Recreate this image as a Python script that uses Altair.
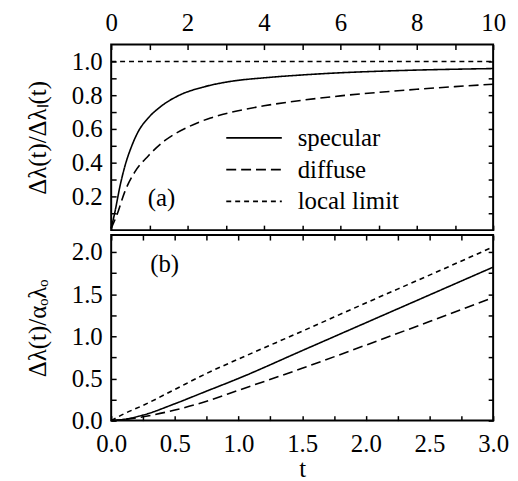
import altair as alt
import pandas as pd

# ---------------- data ----------------
series = ["specular", "diffuse", "local limit"]

# panel (a): t in [0, 10]
a_spec_t = [0, 0.1, 0.23, 0.36, 0.54, 0.71, 0.97, 1.31, 1.74, 2.44, 3.13,
            4, 5, 6, 7, 8, 9, 10]
a_specular = [0.01, 0.11, 0.26, 0.38, 0.50, 0.585, 0.665, 0.735, 0.795, 0.85, 0.882,
              0.903, 0.92, 0.933, 0.942, 0.949, 0.954, 0.958]
a_diff_t = [0, 0.15, 0.36, 0.62, 0.97, 1.4, 2.0, 2.6, 3.17, 4, 5, 6, 7, 8, 9, 10]
a_diffuse = [0.01, 0.09, 0.23, 0.345, 0.44, 0.53, 0.61, 0.665, 0.70, 0.737,
             0.77, 0.796, 0.817, 0.835, 0.851, 0.865]
a_local_t = [0, 10]
a_local = [1.0, 1.0]

# panel (b): t in [0, 3]
b_t = [0, 0.1, 0.25, 0.5, 0.75, 1, 1.5, 2, 2.5, 3]
b_specular = [0, 0.015, 0.065, 0.20, 0.35, 0.50, 0.83, 1.16, 1.49, 1.82]
b_diffuse = [0, 0.01, 0.045, 0.125, 0.23, 0.36, 0.62, 0.895, 1.175, 1.46]
b_local = [0, 0.08, 0.18, 0.37, 0.56, 0.73, 1.06, 1.395, 1.725, 2.06]

# panel labels
a_label = ["(a)"]
a_label_t = [1.32]
a_label_v = [0.19]
b_label = ["(b)"]
b_label_t = [0.42]
b_label_v = [1.86]

# tick values
a_xticks = list(range(0, 11))
a_yticks = [round(0.1 * i, 1) for i in range(1, 11)]
b_xticks = [0.25 * i for i in range(0, 13)]
b_yticks = [0.25 * i for i in range(0, 9)]

# ---------------- frames ----------------
rows = []
for s, tt, vv in [("specular", a_spec_t, a_specular), ("diffuse", a_diff_t, a_diffuse),
                  ("local limit", a_local_t, a_local)]:
    for t, v in zip(tt, vv):
        rows.append({"series": s, "t": t, "v": v})
df_a = pd.DataFrame(rows)

rows = []
for s, vv in [("specular", b_specular), ("diffuse", b_diffuse), ("local limit", b_local)]:
    for t, v in zip(b_t, vv):
        rows.append({"series": s, "t": t, "v": v})
df_b = pd.DataFrame(rows)

lab_a = pd.DataFrame({"label": a_label, "t": a_label_t, "v": a_label_v})
lab_b = pd.DataFrame({"label": b_label, "t": b_label_t, "v": b_label_v})

FONT = "Liberation Serif"
FS = 25
W = 385
H_A = 187
H_B = 187
TICK = 5
dash_range = [[1, 0], [10, 5], [5, 4]]


def axis(orient, values, expr=None, title=None, labels=True, **kw):
    args = dict(orient=orient, values=values, offset=-TICK, tickSize=TICK,
                labels=labels, title=title)
    if expr is not None:
        args["labelExpr"] = expr
    args.update(kw)
    return alt.Axis(**args)


ex_int2 = "datum.value % 2 == 0 ? datum.label : ''"
ex_02 = "round(datum.value * 10) % 2 == 0 ? format(datum.value, '.1f') : ''"
ex_05 = "round(datum.value * 4) % 2 == 0 ? format(datum.value, '.1f') : ''"

xa = alt.Scale(domain=[0, 10], nice=False, zero=False)
ya = alt.Scale(domain=[0, 1.1], nice=False, zero=False)
xb = alt.Scale(domain=[0, 3], nice=False, zero=False)
yb = alt.Scale(domain=[0, 2.2], nice=False, zero=False)

dash_scale = alt.Scale(domain=series, range=dash_range)

# ---- panel (a) ----
lines_a = alt.Chart(df_a).mark_line(color="black", strokeWidth=1.6, interpolate="monotone").encode(
    x=alt.X("t:Q", scale=xa,
            axis=axis("top", a_xticks, ex_int2, labelFlush=False, labelPadding=9)),
    y=alt.Y("v:Q", scale=ya,
            axis=axis("left", a_yticks, ex_02, title="Δλ(t)/Δλₗ(t)",
                      labelPadding=9, titlePadding=21)),
    strokeDash=alt.StrokeDash(
        "series:N", scale=dash_scale,
        legend=alt.Legend(title=None, orient="none", legendX=115, legendY=80,
                          symbolType="stroke", symbolSize=3136,
                          symbolStrokeColor="black", symbolStrokeWidth=1.6,
                          labelFont=FONT, labelFontSize=FS, labelColor="black",
                          labelOffset=15, clipHeight=28, rowPadding=4,
                          padding=0, labelLimit=300)),
    order=alt.Order("t:Q"),
)

text_a = alt.Chart(lab_a).mark_text(font=FONT, fontSize=FS, color="black").encode(
    x=alt.X("t:Q", scale=xa, axis=axis("bottom", a_xticks, labels=False)),
    y=alt.Y("v:Q", scale=ya, axis=axis("right", a_yticks, labels=False)),
    text="label:N",
)

panel_a = alt.layer(lines_a, text_a).resolve_axis(
    x="independent", y="independent").properties(width=W, height=H_A)

# ---- panel (b) ----
lines_b = alt.Chart(df_b).mark_line(color="black", strokeWidth=1.6, interpolate="monotone").encode(
    x=alt.X("t:Q", scale=xb,
            axis=axis("bottom", b_xticks, ex_05, title="t", labelFlush=False,
                      labelPadding=11, titlePadding=0)),
    y=alt.Y("v:Q", scale=yb,
            axis=axis("left", b_yticks, ex_05, title="Δλ(t)/αₒλₒ",
                      labelPadding=9, titlePadding=21)),
    strokeDash=alt.StrokeDash("series:N", scale=dash_scale, legend=None),
    order=alt.Order("t:Q"),
)

text_b = alt.Chart(lab_b).mark_text(font=FONT, fontSize=FS, color="black").encode(
    x=alt.X("t:Q", scale=xb, axis=axis("top", b_xticks, labels=False)),
    y=alt.Y("v:Q", scale=yb, axis=axis("right", b_yticks, labels=False)),
    text="label:N",
)

panel_b = alt.layer(lines_b, text_b).resolve_axis(
    x="independent", y="independent").properties(width=W, height=H_B)

chart = alt.vconcat(panel_a, panel_b, spacing=0).resolve_scale(
    x="independent", y="independent", strokeDash="independent"
).resolve_legend(strokeDash="independent").properties(
    padding={"left": 16, "top": 0, "right": 0, "bottom": 0},
    background="white",
).configure_view(
    stroke="black", strokeWidth=2
).configure_axis(
    domain=False, grid=False, tickColor="black", tickWidth=1.5,
    labelFont=FONT, labelFontSize=FS, labelColor="black",
    titleFont=FONT, titleFontSize=FS, titleFontWeight="normal", titleColor="black",
)

chart.save("out.html", embed_options={"renderer": "svg", "actions": False})
